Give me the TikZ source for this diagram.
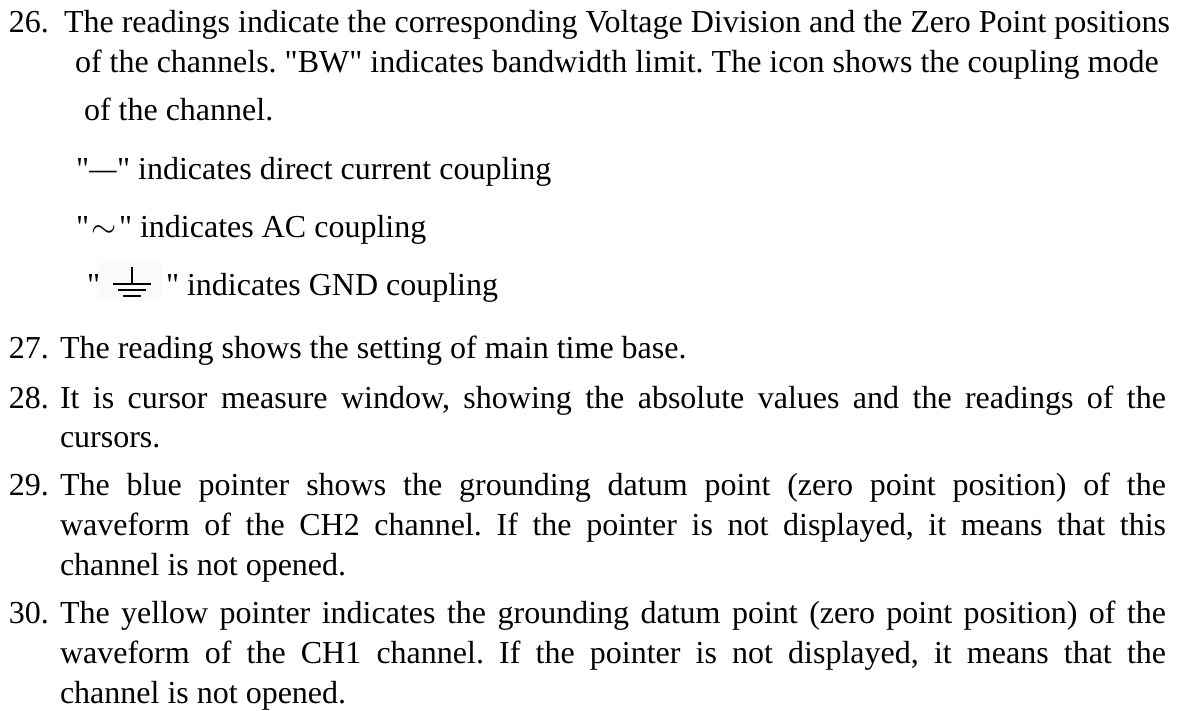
\documentclass[tikz,border=0pt]{standalone}
\usepackage{fontspec}
\usepackage{graphicx}
\setmainfont{Liberation Serif}[Ligatures=TeXOff]
\frenchspacing
\newcommand{\justline}[2]{\makebox[#1][s]{#2}}
\newcommand{\dq}{"}
\begin{document}
\begin{tikzpicture}[x=1pt,y=-1pt,
  txt/.style={anchor=base west,inner sep=0pt,outer sep=0pt,font=\fontsize{32}{40}\selectfont},
  gnd/.style={line width=1.5pt,black}]
\useasboundingbox (0,0) rectangle (1183,711);
% item 26
\node[txt] (n26) at (9,33) {26.};
\node[txt] (a1) at (64,33) {The readings indicate the corresponding Voltage Division and the Zero Point positions};
\node[txt] (a2) at (75,73) {of the channels. \dq BW\dq\ indicates bandwidth limit. The icon shows the coupling mode};
\node[txt] (a3) at (84,121) {of the channel.};
\node[txt] (dc) at (76,180) {\dq\makebox[28pt]{\scalebox{0.85}[1]{—}}\dq\ indicates direct current coupling};
\node[txt] (ac) at (76,238) {\dq\makebox[30pt]{\scalebox{1.3}{$\sim$}}\dq\ indicates AC coupling};
% GND line
\fill[black!2] (97,263) rectangle (162,298);
\node[txt] (q1) at (87,295) {\dq};
\draw[gnd] (132,267) -- (132,284);
\draw[gnd] (113,284) -- (151,284);
\draw[gnd] (118,290) -- (146,290);
\draw[gnd] (123,296) -- (141,296);
\node[txt] (gl) at (166,295) {\dq\ indicates GND coupling};
% item 27
\node[txt] (n27) at (9,358) {27.};
\node[txt] (b1) at (60,358) {The reading shows the setting of main time base.};
% item 28
\node[txt] (n28) at (9,408) {28.};
\node[txt] (c1) at (60,408) {\justline{1106pt}{It is cursor measure window, showing the absolute values and the readings of the}};
\node[txt] (c2) at (60,447) {cursors.};
% item 29
\node[txt] (n29) at (9,495) {29.};
\node[txt] (d1) at (60,495) {\justline{1106pt}{The blue pointer shows the grounding datum point (zero point position) of the}};
\node[txt] (d2) at (60,535) {\justline{1106pt}{waveform of the CH2 channel. If the pointer is not displayed, it means that this}};
\node[txt] (d3) at (60,575) {channel is not opened.};
% item 30
\node[txt] (n30) at (9,623) {30.};
\node[txt] (e1) at (60,623) {\justline{1106pt}{The yellow pointer indicates the grounding datum point (zero point position) of the}};
\node[txt] (e2) at (60,663) {\justline{1106pt}{waveform of the CH1 channel. If the pointer is not displayed, it means that the}};
\node[txt] (e3) at (60,703) {channel is not opened.};
\end{tikzpicture}
\end{document}
